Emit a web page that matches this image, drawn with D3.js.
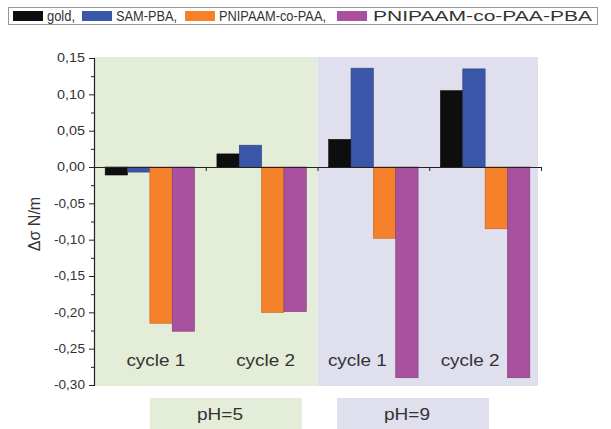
<!DOCTYPE html>
<html>
<head>
<meta charset="utf-8">
<script src="https://cdn.jsdelivr.net/npm/d3@7"></script>
<style>
  html, body { margin: 0; padding: 0; background: #fff; }
  svg { display: block; }
  text { font-family: "Liberation Sans", Arial, sans-serif; fill: #333; }
</style>
</head>
<body>
<svg id="chart" width="611" height="429"></svg>
<script>
// ---------- data ----------
const groups = ["cycle 1", "cycle 2", "cycle 1", "cycle 2"];
const seriesNames = ["gold,", "SAM-PBA,", "PNIPAAM-co-PAA,", "PNIPAAM-co-PAA-PBA"];
const seriesColors = ["#0e0e0e", "#3a56a8", "#f5822a", "#a8519f"];
const gold = [-0.011, 0.018, 0.038, 0.105];
const samPba = [-0.007, 0.030, 0.136, 0.135];
const pnipaamPaa = [-0.215, -0.200, -0.098, -0.085];
const pnipaamPaaPba = [-0.226, -0.199, -0.290, -0.290];
const phLabels = ["pH=5", "pH=9"];
const phGroups = [[0, 1], [2, 3]];
const yTicks = [0.15, 0.10, 0.05, 0.00, -0.05, -0.10, -0.15, -0.20, -0.25, -0.30];
const yLabel = "\u0394\u03c3  N/m";

const allSeries = [gold, samPba, pnipaamPaa, pnipaamPaaPba];

// ---------- layout ----------
const svg = d3.select("#chart");
const pLeft = 94, pRight = 541, pTop = 58, pBottom = 385;

const x = d3.scaleBand().domain(d3.range(groups.length)).range([pLeft, pRight]).paddingInner(0).paddingOuter(0);
const xs = d3.scaleBand().domain(d3.range(allSeries.length)).range([0, x.bandwidth()]).paddingInner(0).paddingOuter(0.5);
const y = d3.scaleLinear().domain([-0.30, 0.15]).range([pBottom, pTop]);

const bgColors = ["#e4edd7", "#dfdfee"];

// backgrounds
phGroups.forEach((g, i) => {
  const x0 = x(g[0]);
  const x1 = i === phGroups.length - 1 ? x(g[1]) + x.bandwidth() - 3 : x(g[1]) + x.bandwidth();
  svg.append("rect")
    .attr("x", x0).attr("y", pTop - 1)
    .attr("width", x1 - x0).attr("height", pBottom - pTop + 2)
    .attr("fill", bgColors[i]);
});

// bars
allSeries.forEach((vals, si) => {
  svg.append("g").selectAll("rect")
    .data(vals)
    .join("rect")
    .attr("x", (d, gi) => x(gi) + xs(si))
    .attr("width", xs.bandwidth())
    .attr("y", d => y(Math.max(0, d)))
    .attr("height", d => Math.abs(y(d) - y(0)))
    .attr("fill", seriesColors[si])
    .attr("stroke", d3.color(seriesColors[si]).darker(0.8))
    .attr("stroke-width", 0.6);
});

// cycle labels
const cycleOffsets = [6, 4, -16, -15];
svg.append("g").selectAll("text")
  .data(groups)
  .join("text")
  .attr("x", (d, i) => x(i) + x.bandwidth() / 2 + cycleOffsets[i])
  .attr("y", 366)
  .attr("text-anchor", "middle")
  .attr("font-size", 16)
  .attr("textLength", 59)
  .attr("lengthAdjust", "spacingAndGlyphs")
  .text(d => d);

// y axis
const fmt = d => d3.format(".2f")(Math.abs(d)).replace(".", ",");
const yAxis = d3.axisLeft(y).tickValues(yTicks).tickSize(5).tickPadding(4)
  .tickFormat(d => (d < -1e-9 ? "-" : "") + fmt(d));
const ga = svg.append("g").attr("transform", `translate(${pLeft},0)`).call(yAxis);
ga.select(".domain").attr("stroke", "#222").attr("stroke-width", 1.2);
ga.selectAll(".tick line").attr("stroke", "#222").attr("stroke-width", 1);
ga.selectAll(".tick text")
  .attr("font-family", "Liberation Sans, Arial, sans-serif")
  .attr("font-size", 12)
  .attr("fill", "#444")
  .attr("textLength", function(d) { return d < -1e-9 ? 31 : 28; })
  .attr("lengthAdjust", "spacingAndGlyphs");

// minor ticks
const minor = yTicks.slice(0, -1).map(v => v - 0.025);
const gm = svg.append("g").attr("transform", `translate(${pLeft},0)`)
  .call(d3.axisLeft(y).tickValues(minor).tickSize(3).tickFormat(""));
gm.select(".domain").remove();
gm.selectAll(".tick line").attr("stroke", "#222");

// zero line with group ticks
const gx = svg.append("g").attr("transform", `translate(0,${y(0)})`)
  .call(d3.axisBottom(d3.scaleLinear().domain([0, groups.length]).range([pLeft, pRight]))
    .tickValues(d3.range(groups.length + 1)).tickSize(4).tickSizeOuter(0).tickFormat(""));
gx.select(".domain").attr("stroke", "#222").attr("stroke-width", 1.2);
gx.selectAll(".tick line").attr("stroke", "#222");

// y label
svg.append("text")
  .attr("transform", `translate(40,224) rotate(-90)`)
  .attr("text-anchor", "middle")
  .attr("font-size", 16)
  .attr("fill", "#444")
  .text(yLabel);

// pH boxes
const phBoxes = [{x0: 150, x1: 302}, {x0: 337, x1: 489}];
phLabels.forEach((lab, i) => {
  svg.append("rect")
    .attr("x", phBoxes[i].x0).attr("y", 398)
    .attr("width", phBoxes[i].x1 - phBoxes[i].x0).attr("height", 31)
    .attr("fill", bgColors[i]);
  svg.append("text")
    .attr("x", (phBoxes[i].x0 + phBoxes[i].x1) / 2 - 6)
    .attr("y", 420)
    .attr("text-anchor", "middle")
    .attr("font-size", 16)
    .attr("textLength", 46)
    .attr("lengthAdjust", "spacingAndGlyphs")
    .attr("fill", "#444")
    .text(lab);
});

// legend
svg.append("rect")
  .attr("x", 8.5).attr("y", 7.5).attr("width", 589).attr("height", 17)
  .attr("fill", "#fff").attr("stroke", "#999").attr("stroke-width", 1);
const legendItems = [
  {sx: 13, tx: 47, tw: 28},
  {sx: 82, tx: 116, tw: 61},
  {sx: 185, tx: 219, tw: 107},
  {sx: 337, tx: 373, tw: 219}
];
seriesNames.forEach((name, i) => {
  svg.append("rect")
    .attr("x", legendItems[i].sx).attr("y", 11)
    .attr("width", 30).attr("height", 10)
    .attr("fill", seriesColors[i]);
  svg.append("text")
    .attr("x", legendItems[i].tx).attr("y", 21)
    .attr("font-size", 14)
    .attr("textLength", legendItems[i].tw)
    .attr("lengthAdjust", "spacingAndGlyphs")
    .attr("fill", "#222")
    .text(name);
});
</script>
</body>
</html>
